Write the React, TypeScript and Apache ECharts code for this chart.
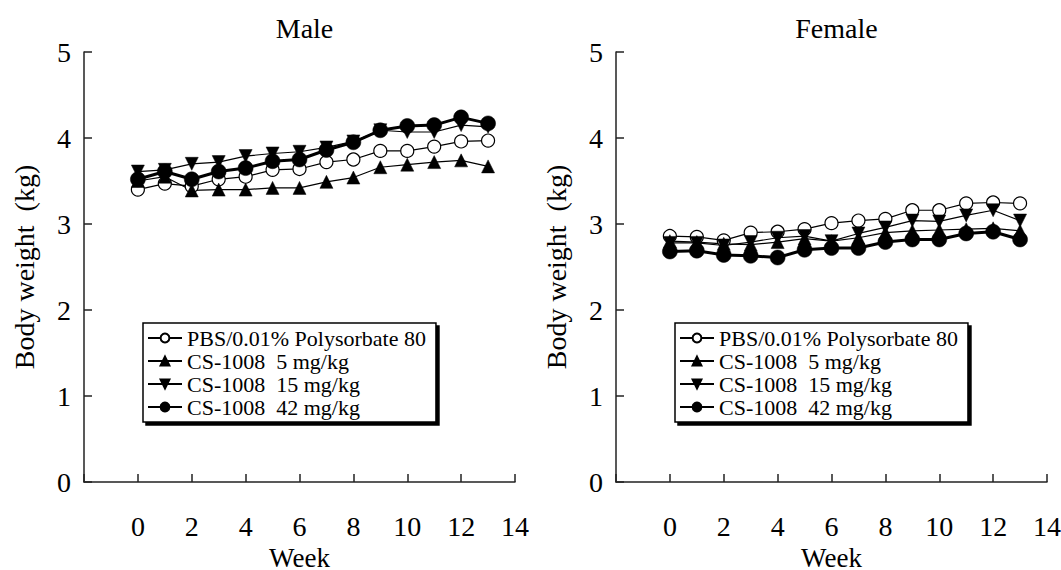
import React, { useEffect, useRef } from 'react';
import * as echarts from 'echarts';

const weeks = [0, 1, 2, 3, 4, 5, 6, 7, 8, 9, 10, 11, 12, 13];
const panelTitles = ['Male', 'Female'];
const seriesNames = [
  'PBS/0.01% Polysorbate 80',
  'CS-1008  5 mg/kg',
  'CS-1008  15 mg/kg',
  'CS-1008  42 mg/kg',
];

const malePBS = [3.40, 3.47, 3.44, 3.52, 3.55, 3.63, 3.64, 3.72, 3.75, 3.85, 3.85, 3.90, 3.96, 3.97];
const male5 = [3.50, 3.55, 3.39, 3.40, 3.40, 3.42, 3.42, 3.49, 3.54, 3.66, 3.69, 3.72, 3.74, 3.67];
const male15 = [3.61, 3.63, 3.70, 3.72, 3.79, 3.82, 3.84, 3.89, 3.96, 4.09, 4.07, 4.07, 4.15, 4.13];
const male42 = [3.52, 3.61, 3.52, 3.61, 3.65, 3.73, 3.75, 3.86, 3.95, 4.09, 4.14, 4.15, 4.24, 4.17];

const femalePBS = [2.86, 2.85, 2.81, 2.90, 2.91, 2.94, 3.01, 3.04, 3.06, 3.16, 3.16, 3.24, 3.25, 3.24];
const female5 = [2.80, 2.79, 2.77, 2.76, 2.79, 2.83, 2.80, 2.84, 2.90, 2.92, 2.93, 2.94, 2.95, 2.92];
const female15 = [2.78, 2.78, 2.75, 2.79, 2.84, 2.86, 2.80, 2.89, 2.96, 3.04, 3.03, 3.10, 3.16, 3.04];
const female42 = [2.68, 2.69, 2.64, 2.63, 2.61, 2.70, 2.72, 2.72, 2.79, 2.82, 2.82, 2.89, 2.91, 2.82];

const FONT = 'Liberation Serif';

const pairs = (vals: number[]) => weeks.map((w, i) => [w, vals[i]]);

export default function App() {
  const ref = useRef<HTMLDivElement>(null);
  useEffect(() => {
    if (!ref.current) return;
    document.body.style.margin = '0';
    document.body.style.overflow = 'hidden';
    const chart = echarts.init(ref.current, undefined, { renderer: 'svg' });

    const grids = [
      { left: 84, top: 52, width: 431, height: 430, containLabel: false, outerBoundsMode: 'none' },
      { left: 616, top: 52, width: 431, height: 430, containLabel: false, outerBoundsMode: 'none' },
    ];
    const axisLineStyle = { color: '#222', width: 1.5 };

    const xAxes = grids.map((_, i) => ({
      type: 'value',
      gridIndex: i,
      min: -2,
      max: 14,
      interval: 2,
      axisLine: { show: true, onZero: false, lineStyle: axisLineStyle },
      axisTick: { show: true, inside: true, length: 8, lineStyle: axisLineStyle },
      axisLabel: {
        fontSize: 28,
        color: '#000',
        fontFamily: FONT,
        margin: 30,
        formatter: (v: number) => (v < 0 ? '' : String(v)),
      },
      splitLine: { show: false },
      name: 'Week',
      nameLocation: 'middle',
      nameGap: 52,
      nameTextStyle: { fontSize: 27, lineHeight: 27, color: '#000', fontFamily: FONT },
    }));

    const yAxes = grids.map((_, i) => ({
      type: 'value',
      gridIndex: i,
      min: 0,
      max: 5,
      interval: 1,
      axisLine: { show: true, onZero: false, lineStyle: axisLineStyle },
      axisTick: { show: true, inside: true, length: 8, lineStyle: axisLineStyle },
      axisLabel: { fontSize: 28, color: '#000', fontFamily: FONT, margin: 13 },
      splitLine: { show: false },
      name: 'Body weight  (kg)',
      nameLocation: 'middle',
      nameGap: 46,
      nameTextStyle: { fontSize: 28, color: '#000', fontFamily: FONT },
    }));

    const styles = [
      {
        symbol: 'circle',
        symbolSize: 13,
        itemStyle: { color: '#fff', borderColor: '#000', borderWidth: 1.2 },
        lineStyle: { color: '#000', width: 1.2 },
      },
      {
        symbol: 'triangle',
        symbolSize: 13,
        itemStyle: { color: '#000', borderColor: '#000', borderWidth: 0.5 },
        lineStyle: { color: '#000', width: 1.2 },
      },
      {
        symbol: 'path://M0,0L10,0L5,8.66Z',
        symbolSize: 13,
        itemStyle: { color: '#000', borderColor: '#000', borderWidth: 0.5 },
        lineStyle: { color: '#000', width: 1.2 },
      },
      {
        symbol: 'circle',
        symbolSize: 15,
        itemStyle: { color: '#000', borderColor: '#000', borderWidth: 0.5 },
        lineStyle: { color: '#000', width: 3 },
      },
    ];

    const panels = [
      [malePBS, male5, male15, male42],
      [femalePBS, female5, female15, female42],
    ];

    const series: any[] = [];
    panels.forEach((panel, gi) => {
      panel.forEach((vals, si) => {
        series.push({
          type: 'line',
          name: seriesNames[si],
          xAxisIndex: gi,
          yAxisIndex: gi,
          data: pairs(vals),
          showAllSymbol: true,
          emphasis: { disabled: true },
          ...styles[si],
        });
      });
    });

    const legends = grids.map((g) => ({
      orient: 'vertical',
      left: g.left + 59,
      top: 323,
      data: seriesNames,
      selectedMode: false,
      itemWidth: 34,
      itemHeight: 11,
      itemGap: 1,
      padding: [4, 10, 4, 4],
      backgroundColor: '#fff',
      borderColor: '#000',
      borderWidth: 1.5,
      borderRadius: 0,
      shadowColor: '#000',
      shadowBlur: 1,
      shadowOffsetX: 3,
      shadowOffsetY: 3,
      textStyle: { fontSize: 22, color: '#000', fontFamily: FONT },
    }));

    const titles = grids.map((g, i) => ({
      text: panelTitles[i],
      left: g.left + g.width / 2,
      top: 9,
      textAlign: 'center',
      textStyle: { fontSize: 28, fontWeight: 'normal', color: '#000', fontFamily: FONT },
    }));

    chart.setOption({
      animation: false,
      backgroundColor: '#fff',
      title: titles,
      grid: grids,
      xAxis: xAxes,
      yAxis: yAxes,
      legend: legends,
      tooltip: { show: false },
      series,
    });

    return () => chart.dispose();
  }, []);

  return <div ref={ref} style={{ width: 1061, height: 570, background: '#fff' }} />;
}
